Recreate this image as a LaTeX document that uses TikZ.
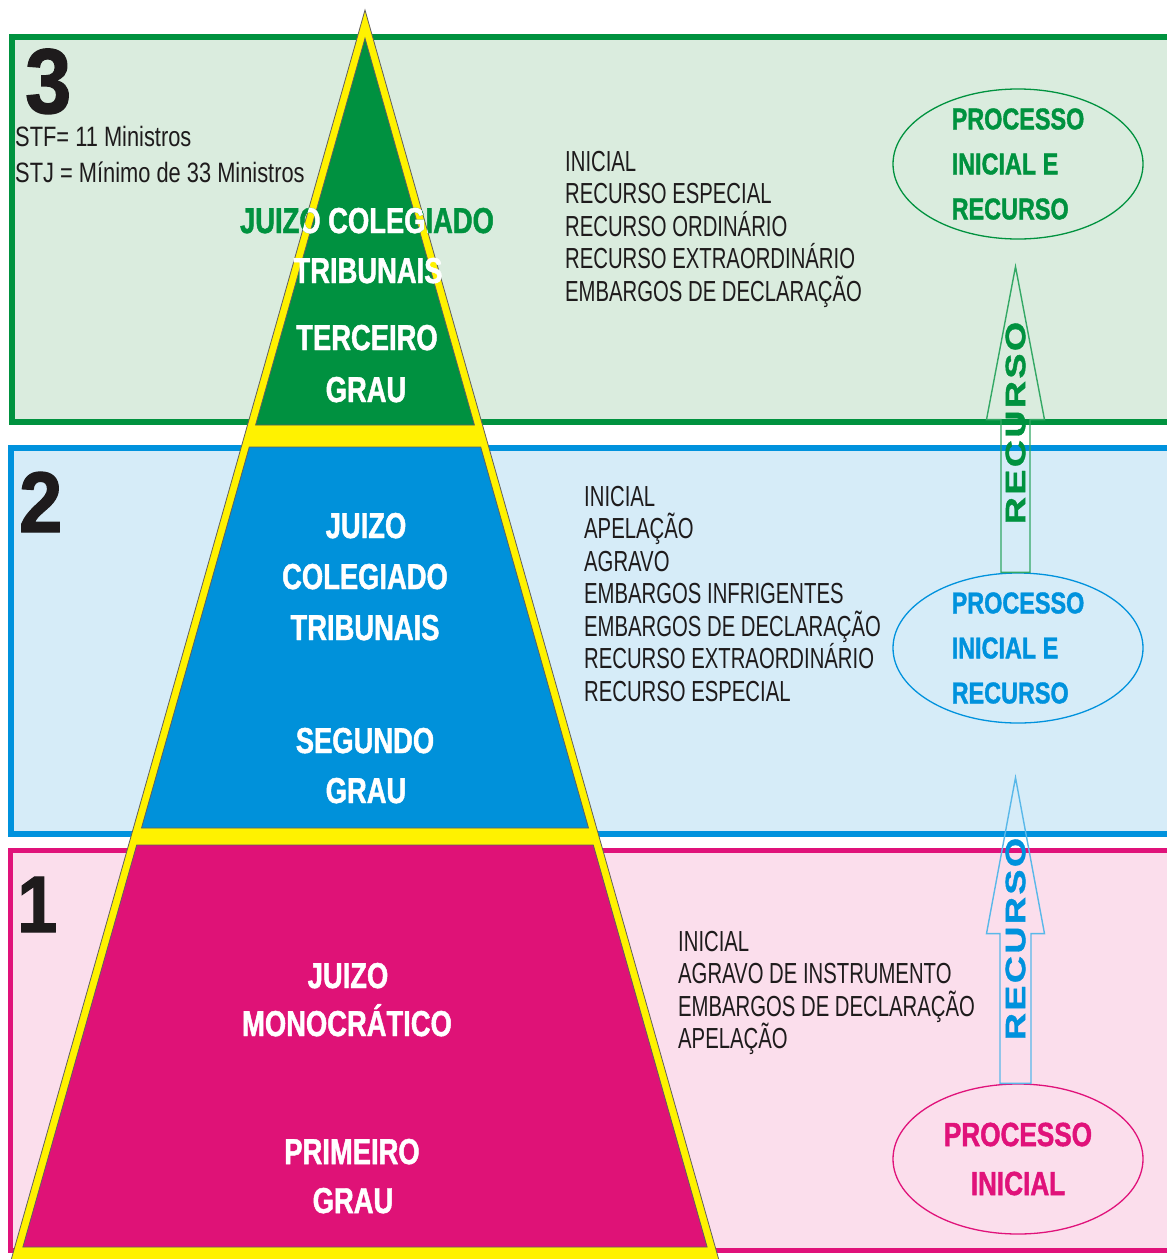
\documentclass[tikz,border=0pt]{standalone}
\usepackage{fontspec}
\setmainfont{Liberation Sans}
\newfontfamily\listfont[FakeStretch=0.70]{Liberation Sans}
\newfontfamily\infofont[FakeStretch=0.78]{Liberation Sans}
\newfontfamily\boldcond[UprightFont={* Bold}, FakeStretch=0.76, FakeBold=1.3]{Liberation Sans}
\newfontfamily\ellfont[UprightFont={* Bold}, FakeStretch=0.78, FakeBold=1.3]{Liberation Sans}
\newfontfamily\digitfont[UprightFont={* Bold}, FakeStretch=0.9, FakeBold=1.5]{Liberation Sans}
\newfontfamily\arrowfont[UprightFont={* Bold}, FakeStretch=1.35, LetterSpace=8, FakeBold=1.3]{Liberation Sans}
\usetikzlibrary{calc,shapes.geometric}
\definecolor{gDark}{RGB}{0,146,63}
\definecolor{gLight}{RGB}{218,236,222}
\definecolor{bDark}{RGB}{0,146,221}
\definecolor{bLight}{RGB}{214,236,248}
\definecolor{pDark}{RGB}{224,18,122}
\definecolor{pLight}{RGB}{251,222,236}
\definecolor{pyrYellow}{RGB}{255,242,0}
\definecolor{pyrG}{RGB}{0,145,64}
\definecolor{pyrB}{RGB}{0,145,218}
\definecolor{pyrP}{RGB}{223,18,119}
\definecolor{ink}{RGB}{30,27,28}
\begin{document}
\begin{tikzpicture}[x=1pt,y=-1pt,
  pyrline/.style={draw=ink!70, line width=0.8pt},
  pyrtxt/.style={font=\boldcond\fontsize{36}{40}\selectfont, text=white, anchor=base, inner sep=0pt},
  listtxt/.style={font=\listfont\fontsize{29}{32.5}\selectfont, text=ink, align=left, anchor=north west, inner sep=0pt},
  infotxt/.style={font=\infofont\fontsize{28}{30}\selectfont, text=ink, anchor=base west, inner sep=0pt},
  digit/.style={font=\digitfont\fontsize{#1}{#1}\selectfont, text=ink, anchor=base west, inner sep=0pt},
  ell/.style={ellipse, draw=#1, text=#1, line width=1.3pt, minimum width=250pt, minimum height=150pt,
    inner xsep=0pt, inner ysep=-4pt},
  arrtxt/.style={font=\arrowfont\fontsize{28}{30}\selectfont, text=#1, rotate=90, inner sep=0pt},
  blockarrow/.style={draw=#1, line width=1.4pt, line join=miter}
]
\clip (0,0) rectangle (1167,1259);
\fill[white] (0,0) rectangle (1167,1259);

% level boxes
\draw[line width=6pt, draw=gDark, fill=gLight] (12,37) rectangle (1185,422);
\draw[line width=6pt, draw=bDark, fill=bLight] (11,448) rectangle (1185,834);
\draw[line width=5pt, draw=pDark, fill=pLight] (10,850) rectangle (1185,1250);

% pyramid
\filldraw[fill=pyrYellow, pyrline] (365,10) -- (726,1285) -- (4,1285) -- cycle;
\filldraw[fill=pyrG, pyrline] (365,38.3) -- (474.4,425) -- (255.6,425) -- cycle;
\filldraw[fill=pyrB, pyrline] (249.3,447) -- (480.7,447) -- (588.5,828) -- (141.5,828) -- cycle;
\filldraw[fill=pyrP, pyrline] (136.7,845) -- (593.3,845) -- (707.1,1247) -- (22.9,1247) -- cycle;

% level numbers
\node[digit=92] (n3) at (25,113) {3};
\node[digit=86] (n2) at (19,532) {2};
\node[digit=80] (n1) at (17,932) {1};

\node[infotxt] (stf) at (15,146) {STF= 11 Ministros};
\node[infotxt] (stj) at (15,182) {STJ = Mínimo de 33 Ministros};

% pyramid texts, level 3
\node[pyrtxt, text=gDark] (t3a) at (367,233) {JUIZO COLEGIADO};
\begin{scope}
  \clip (365,10) -- (726,1285) -- (4,1285) -- cycle;
  \node[pyrtxt] (t3aw) at (367,233) {JUIZO COLEGIADO};
\end{scope}
\node[pyrtxt] (t3b) at (368,283) {TRIBUNAIS};
\node[pyrtxt] (t3c) at (367,350) {TERCEIRO};
\node[pyrtxt] (t3d) at (366,402) {GRAU};

% level 2
\node[pyrtxt] (t2a) at (366,538) {JUIZO};
\node[pyrtxt] (t2b) at (365,589) {COLEGIADO};
\node[pyrtxt] (t2c) at (365,640) {TRIBUNAIS};
\node[pyrtxt] (t2d) at (365,753) {SEGUNDO};
\node[pyrtxt] (t2e) at (366,803) {GRAU};

% level 1
\node[pyrtxt] (t1a) at (348,988) {JUIZO};
\node[pyrtxt] (t1b) at (347,1036) {MONOCRÁTICO};
\node[pyrtxt] (t1c) at (352,1164) {PRIMEIRO};
\node[pyrtxt] (t1d) at (353,1213) {GRAU};

% lists
\node[listtxt] (l3) at (565,151) {INICIAL\\RECURSO ESPECIAL\\RECURSO ORDINÁRIO\\RECURSO EXTRAORDINÁRIO\\EMBARGOS DE DECLARAÇÃO};
\node[listtxt] (l2) at (584,486) {INICIAL\\APELAÇÃO\\AGRAVO\\EMBARGOS INFRIGENTES\\EMBARGOS DE DECLARAÇÃO\\RECURSO EXTRAORDINÁRIO\\RECURSO ESPECIAL};
\node[listtxt] (l1) at (678,931) {INICIAL\\AGRAVO DE INSTRUMENTO\\EMBARGOS DE DECLARAÇÃO\\APELAÇÃO};

% ellipses
\node[ell=gDark, align=left, font=\ellfont\fontsize{30}{45}\selectfont] (ge) at (1018,164) {PROCESSO\\INICIAL E\\RECURSO};
\node[ell=bDark, align=left, font=\ellfont\fontsize{30}{45}\selectfont] (be) at (1018,648) {PROCESSO\\INICIAL E\\RECURSO};
\node[ell=pDark, align=center, font=\ellfont\fontsize{33.5}{49}\selectfont] (pe) at (1018,1159) {PROCESSO\\INICIAL};

% block arrows
\coordinate (gtail) at ($(be.north)+(-2.5,0)$);
\coordinate (gtip) at ($(ge.south)+(-2.5,27)$);
\draw[blockarrow=gDark!80] ($(gtail)+(-14.5,0)$) -- ($(gtip)+(-14.5,153)$) -- ($(gtip)+(-29,153)$)
  -- (gtip) -- ($(gtip)+(29,153)$) -- ($(gtip)+(14.5,153)$) -- ($(gtail)+(14.5,0)$) -- cycle;
\coordinate (btail) at ($(pe.north)+(-2.5,0)$);
\coordinate (btip) at ($(be.south)+(-2.5,54)$);
\draw[blockarrow=bDark!65] ($(btail)+(-15.5,0)$) -- ($(btip)+(-15.5,156)$) -- ($(btip)+(-29,156)$)
  -- (btip) -- ($(btip)+(29,156)$) -- ($(btip)+(15.5,156)$) -- ($(btail)+(15.5,0)$) -- cycle;

\node[arrtxt=gDark] (ga) at (1015.5,423) {RECURSO};
\node[arrtxt=bDark] (ba) at (1015.5,939) {RECURSO};
\end{tikzpicture}
\end{document}
